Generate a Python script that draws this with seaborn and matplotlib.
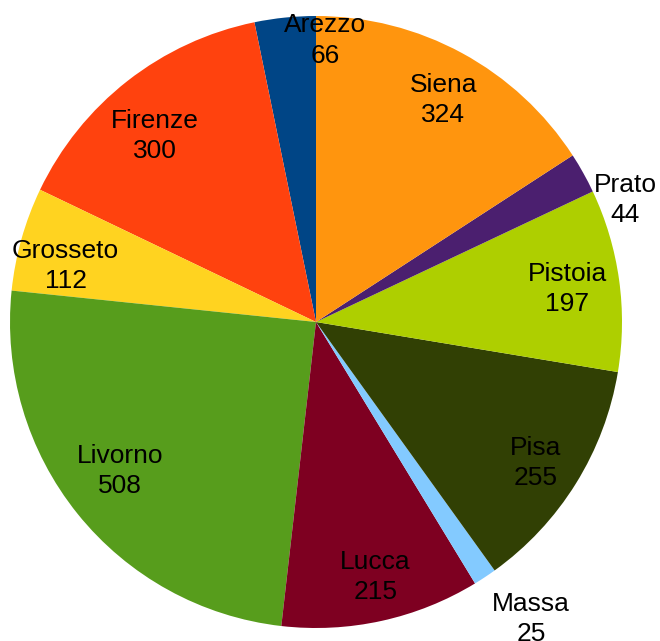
import numpy as np
import matplotlib
matplotlib.use('Agg')
import matplotlib.pyplot as plt
import seaborn as sns

sns.set_theme(style='white')
plt.rcParams['font.family'] = ['Liberation Sans', 'DejaVu Sans']

# dati (ordine antiorario a partire dall'alto)
cities = ['Arezzo', 'Firenze', 'Grosseto', 'Livorno', 'Lucca',
          'Massa', 'Pisa', 'Pistoia', 'Prato', 'Siena']
values = [66, 300, 112, 508, 215, 25, 255, 197, 44, 324]
colors = ['#004586', '#ff420e', '#ffd320', '#579d1c', '#7e0021',
          '#83caff', '#314004', '#aecf00', '#4b1f6f', '#ff950e']
outside = ['Arezzo', 'Massa', 'Prato']

# piccoli spostamenti delle etichette (pixel: destra, giu')
nudge = {'Arezzo': (0, 2), 'Firenze': (-5, 14), 'Grosseto': (-6, 13),
         'Livorno': (2, -10), 'Lucca': (5, 7), 'Massa': (4, 10),
         'Pisa': (4, 7), 'Pistoia': (0, 2), 'Prato': (5, 3), 'Siena': (6, 1)}

fig = plt.figure(figsize=(6.6, 6.41), dpi=100)
ax = fig.add_axes([0, 0, 1, 1])

wedges, _ = ax.pie(values, colors=colors, startangle=90, counterclock=True,
                   radius=1, wedgeprops=dict(linewidth=0))

for w, name, v in zip(wedges, cities, values):
    ang = np.deg2rad((w.theta1 + w.theta2) / 2)
    if name in outside:
        r = 1.02
        ha, va = 'left', 'top'
    else:
        r = 0.83
        ha, va = 'center', 'center'
    dx, dy = nudge[name]
    ax.annotate(f'{name}\n{v}', (r * np.cos(ang), r * np.sin(ang)),
                xytext=(dx * 0.72, -dy * 0.72), textcoords='offset points',
                ha=ha, va=va, multialignment='center', fontsize=19,
                linespacing=1.32, color='black')

ax.set_xlim(-316 / 306, 344 / 306)
ax.set_ylim(-319 / 306, 322 / 306)
ax.set_aspect('equal')
ax.axis('off')

fig.savefig('out.png', dpi=100)
